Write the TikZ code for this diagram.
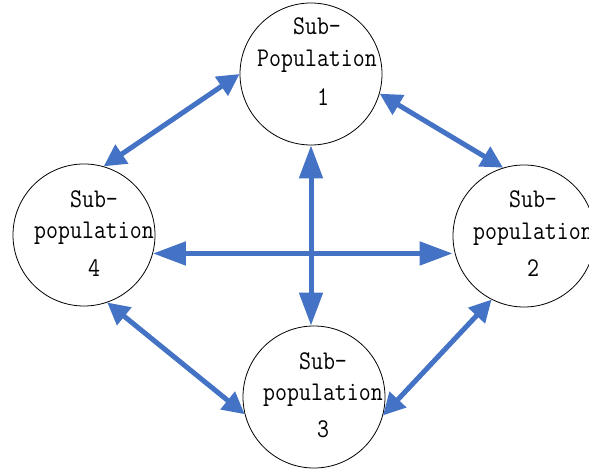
\documentclass[tikz,border=0pt]{standalone}
\usepackage{fontspec}
\usetikzlibrary{arrows.meta}
\newfontfamily\labfont[FakeStretch=0.86]{Latin Modern Mono}
\definecolor{arrblue}{RGB}{68,114,196}
\begin{document}
\begin{tikzpicture}[x=1pt,y=-1pt,
  pop/.style={circle,draw=black,line width=0.8pt,minimum size=142pt,inner sep=0pt},
  txt/.style={anchor=base,inner sep=0pt,font=\labfont\fontsize{27}{32}\selectfont},
  arrd/.style={draw=arrblue,line width=5pt,{Triangle[length=22pt,width=22pt]}-{Triangle[length=22pt,width=22pt]}},
  arrs/.style={draw=arrblue,line width=5pt,{Triangle[length=33pt,width=23pt]}-{Triangle[length=33pt,width=23pt]}}]
\useasboundingbox (0,0) rectangle (589,470);
\node[pop] (c1) at (311,74) {};
\node[pop] (c2) at (524,236) {};
\node[pop] (c3) at (314,397) {};
\node[pop] (c4) at (84,235) {};
% texts
\node[txt] (t1a) at (317,35) {Sub-};
\node[txt] (t1b) at (317,67) {Population};
\node[txt] (t1c) at (323,106) {1};
\node[txt] (t2a) at (533,208) {Sub-};
\node[txt] (t2b) at (533,240) {population};
\node[txt] (t2c) at (533,277) {2};
\node[txt] (t3a) at (323,369) {Sub-};
\node[txt] (t3b) at (323,400) {population};
\node[txt] (t3c) at (323,437) {3};
\node[txt] (t4a) at (94,208) {Sub-};
\node[txt] (t4b) at (94,239) {population};
\node[txt] (t4c) at (94,277) {4};
% arrows
\draw[arrd] (c1.180) -- (c4.74);
\draw[arrd] (c1.-16) -- (c2.107);
\draw[arrs] (c1.south) -- (c1.south |- c3.north);
\draw[arrs] (c4.-15) -- (c4.-15 -| c2.west);
\draw[arrd] (c4.-71) -- (c3.194);
\draw[arrd] (c2.243) -- (c3.-15);
\end{tikzpicture}
\end{document}
